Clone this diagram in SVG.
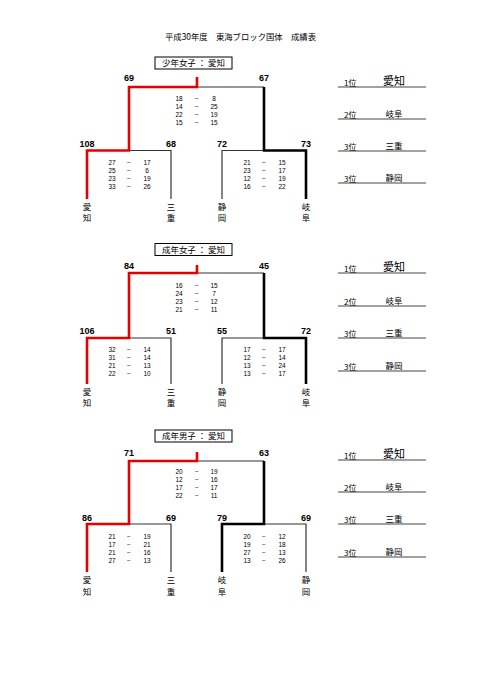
<svg xmlns="http://www.w3.org/2000/svg" width="481" height="680" viewBox="0 0 481 680">
<style>
.jp{font-family:"Noto Sans CJK JP","Noto Sans CJK SC",sans-serif;fill:#000}
.num{font-family:"Liberation Sans",Arial,sans-serif;fill:#000}
.b{font-weight:bold;font-size:9px;text-anchor:middle}
.s{font-size:6.5px;text-anchor:middle}
.nm{font-size:8.5px;text-anchor:middle}
.red{fill:none;stroke:#e60000;stroke-width:2.6}
.blk{fill:none;stroke:#000;stroke-width:2.6}
.thin{fill:none;stroke:#333;stroke-width:1.2}
.box{fill:#fff;stroke:#000;stroke-width:1}
.rl{stroke:#444;stroke-width:1.1}
.rk{font-size:8px}
.rn{font-size:8.5px;text-anchor:middle}
.r1{font-size:11px;text-anchor:middle}
</style>
<rect width="481" height="680" fill="#fff"/>
<text id="title" class="jp" x="240.5" y="40" font-size="8.5" text-anchor="middle" textLength="151" lengthAdjust="spacingAndGlyphs">平成30年度　東海ブロック国体　成績表</text>

<g id="connectors">
  <!-- bracket 1 -->
  <path class="thin" d="M197,87 H264"/>
  <path class="thin" d="M129,150.5 H171 V199"/>
  <path class="thin" d="M222,199 V150.5 H264"/>
  <path class="red" d="M197,77 V87 H129 V150.5 H87 V199"/>
  <path class="blk" d="M264,87 V150.5 H306 V199"/>
  <!-- bracket 2 -->
  <path class="thin" d="M197,273 H264"/>
  <path class="thin" d="M129,338 H171 V384"/>
  <path class="thin" d="M222,384 V338 H264"/>
  <path class="red" d="M197,265 V273 H129 V338 H87 V384"/>
  <path class="blk" d="M264,273 V338 H306 V384"/>
  <!-- bracket 3 -->
  <path class="thin" d="M197,461 H264"/>
  <path class="thin" d="M129,524 H171 V572"/>
  <path class="thin" d="M264,524 H306 V572"/>
  <path class="red" d="M197,452 V461 H129 V524 H87 V572"/>
  <path class="blk" d="M264,461 V524 H222 V572"/>
</g>

<!-- ===== Bracket 1 ===== -->
<g id="b1-header">
  <rect class="box" x="155" y="57" width="77" height="12"/>
  <text class="jp" x="193.5" y="66" font-size="8.5" text-anchor="middle" textLength="63" lengthAdjust="spacingAndGlyphs">少年女子 ： 愛知</text>
</g>
<g id="b1-final" class="num">
  <text class="b" x="129" y="80.5">69</text>
  <text class="b" x="264" y="80.5">67</text>
  <text class="s" x="179" y="101.3">18</text><text class="s" x="197" y="101.3">−</text><text class="s" x="214" y="101.3">8</text>
  <text class="s" x="179" y="109.3">14</text><text class="s" x="197" y="109.3">−</text><text class="s" x="214" y="109.3">25</text>
  <text class="s" x="179" y="117.3">22</text><text class="s" x="197" y="117.3">−</text><text class="s" x="214" y="117.3">19</text>
  <text class="s" x="179" y="125.3">15</text><text class="s" x="197" y="125.3">−</text><text class="s" x="214" y="125.3">15</text>
</g>
<g id="b1-semi-left" class="num">
  <text class="b" x="87" y="146.5">108</text>
  <text class="b" x="171" y="146.5">68</text>
  <text class="s" x="112" y="165.3">27</text><text class="s" x="129" y="165.3">−</text><text class="s" x="147" y="165.3">17</text>
  <text class="s" x="112" y="173.3">25</text><text class="s" x="129" y="173.3">−</text><text class="s" x="147" y="173.3">6</text>
  <text class="s" x="112" y="181.3">23</text><text class="s" x="129" y="181.3">−</text><text class="s" x="147" y="181.3">19</text>
  <text class="s" x="112" y="189.3">33</text><text class="s" x="129" y="189.3">−</text><text class="s" x="147" y="189.3">26</text>
</g>
<g id="b1-semi-right" class="num">
  <text class="b" x="222" y="146.5">72</text>
  <text class="b" x="306" y="146.5">73</text>
  <text class="s" x="247" y="165.3">21</text><text class="s" x="264" y="165.3">−</text><text class="s" x="282" y="165.3">15</text>
  <text class="s" x="247" y="173.3">23</text><text class="s" x="264" y="173.3">−</text><text class="s" x="282" y="173.3">17</text>
  <text class="s" x="247" y="181.3">12</text><text class="s" x="264" y="181.3">−</text><text class="s" x="282" y="181.3">19</text>
  <text class="s" x="247" y="189.3">16</text><text class="s" x="264" y="189.3">−</text><text class="s" x="282" y="189.3">22</text>
</g>
<g id="b1-teams" class="jp">
  <text class="nm" x="87" y="210">愛</text><text class="nm" x="87" y="221">知</text>
  <text class="nm" x="171" y="210">三</text><text class="nm" x="171" y="221">重</text>
  <text class="nm" x="222" y="210">静</text><text class="nm" x="222" y="221">岡</text>
  <text class="nm" x="306" y="210">岐</text><text class="nm" x="306" y="221">阜</text>
</g>
<g id="b1-ranking" class="jp">
  <line class="rl" x1="338" y1="87" x2="426" y2="87"/>
  <line class="rl" x1="338" y1="119" x2="426" y2="119"/>
  <line class="rl" x1="338" y1="151" x2="426" y2="151"/>
  <line class="rl" x1="338" y1="183" x2="426" y2="183"/>
  <text class="rk" x="344" y="85.5">1位</text><text class="r1" x="394" y="84.5">愛知</text>
  <text class="rk" x="344" y="117.5">2位</text><text class="rn" x="394" y="117">岐阜</text>
  <text class="rk" x="344" y="149.5">3位</text><text class="rn" x="394" y="149">三重</text>
  <text class="rk" x="344" y="181.5">3位</text><text class="rn" x="394" y="181">静岡</text>
</g>

<!-- ===== Bracket 2 ===== -->
<g id="b2-header">
  <rect class="box" x="155" y="243.5" width="77" height="12"/>
  <text class="jp" x="193.5" y="252.5" font-size="8.5" text-anchor="middle" textLength="63" lengthAdjust="spacingAndGlyphs">成年女子 ： 愛知</text>
</g>
<g id="b2-final" class="num">
  <text class="b" x="129" y="268.5">84</text>
  <text class="b" x="264" y="268.5">45</text>
  <text class="s" x="179" y="288.3">16</text><text class="s" x="197" y="288.3">−</text><text class="s" x="214" y="288.3">15</text>
  <text class="s" x="179" y="296.3">24</text><text class="s" x="197" y="296.3">−</text><text class="s" x="214" y="296.3">7</text>
  <text class="s" x="179" y="304.3">23</text><text class="s" x="197" y="304.3">−</text><text class="s" x="214" y="304.3">12</text>
  <text class="s" x="179" y="312.3">21</text><text class="s" x="197" y="312.3">−</text><text class="s" x="214" y="312.3">11</text>
</g>
<g id="b2-semi-left" class="num">
  <text class="b" x="87" y="333.5">106</text>
  <text class="b" x="171" y="333.5">51</text>
  <text class="s" x="112" y="352.3">32</text><text class="s" x="129" y="352.3">−</text><text class="s" x="147" y="352.3">14</text>
  <text class="s" x="112" y="360.3">31</text><text class="s" x="129" y="360.3">−</text><text class="s" x="147" y="360.3">14</text>
  <text class="s" x="112" y="368.3">21</text><text class="s" x="129" y="368.3">−</text><text class="s" x="147" y="368.3">13</text>
  <text class="s" x="112" y="376.3">22</text><text class="s" x="129" y="376.3">−</text><text class="s" x="147" y="376.3">10</text>
</g>
<g id="b2-semi-right" class="num">
  <text class="b" x="222" y="333.5">55</text>
  <text class="b" x="306" y="333.5">72</text>
  <text class="s" x="247" y="352.3">17</text><text class="s" x="264" y="352.3">−</text><text class="s" x="282" y="352.3">17</text>
  <text class="s" x="247" y="360.3">12</text><text class="s" x="264" y="360.3">−</text><text class="s" x="282" y="360.3">14</text>
  <text class="s" x="247" y="368.3">13</text><text class="s" x="264" y="368.3">−</text><text class="s" x="282" y="368.3">24</text>
  <text class="s" x="247" y="376.3">13</text><text class="s" x="264" y="376.3">−</text><text class="s" x="282" y="376.3">17</text>
</g>
<g id="b2-teams" class="jp">
  <text class="nm" x="87" y="395">愛</text><text class="nm" x="87" y="406">知</text>
  <text class="nm" x="171" y="395">三</text><text class="nm" x="171" y="406">重</text>
  <text class="nm" x="222" y="395">静</text><text class="nm" x="222" y="406">岡</text>
  <text class="nm" x="306" y="395">岐</text><text class="nm" x="306" y="406">阜</text>
</g>
<g id="b2-ranking" class="jp">
  <line class="rl" x1="338" y1="273" x2="426" y2="273"/>
  <line class="rl" x1="338" y1="306" x2="426" y2="306"/>
  <line class="rl" x1="338" y1="338" x2="426" y2="338"/>
  <line class="rl" x1="338" y1="371" x2="426" y2="371"/>
  <text class="rk" x="344" y="271.5">1位</text><text class="r1" x="394" y="270.5">愛知</text>
  <text class="rk" x="344" y="304.5">2位</text><text class="rn" x="394" y="304">岐阜</text>
  <text class="rk" x="344" y="336.5">3位</text><text class="rn" x="394" y="336">三重</text>
  <text class="rk" x="344" y="369.5">3位</text><text class="rn" x="394" y="369">静岡</text>
</g>

<!-- ===== Bracket 3 ===== -->
<g id="b3-header">
  <rect class="box" x="155" y="430" width="77" height="12"/>
  <text class="jp" x="193.5" y="439" font-size="8.5" text-anchor="middle" textLength="63" lengthAdjust="spacingAndGlyphs">成年男子 ： 愛知</text>
</g>
<g id="b3-final" class="num">
  <text class="b" x="129" y="455.5">71</text>
  <text class="b" x="264" y="455.5">63</text>
  <text class="s" x="179" y="474.3">20</text><text class="s" x="197" y="474.3">−</text><text class="s" x="214" y="474.3">19</text>
  <text class="s" x="179" y="482.3">12</text><text class="s" x="197" y="482.3">−</text><text class="s" x="214" y="482.3">16</text>
  <text class="s" x="179" y="490.3">17</text><text class="s" x="197" y="490.3">−</text><text class="s" x="214" y="490.3">17</text>
  <text class="s" x="179" y="498.3">22</text><text class="s" x="197" y="498.3">−</text><text class="s" x="214" y="498.3">11</text>
</g>
<g id="b3-semi-left" class="num">
  <text class="b" x="87" y="520.5">86</text>
  <text class="b" x="171" y="520.5">69</text>
  <text class="s" x="112" y="539.3">21</text><text class="s" x="129" y="539.3">−</text><text class="s" x="147" y="539.3">19</text>
  <text class="s" x="112" y="547.3">17</text><text class="s" x="129" y="547.3">−</text><text class="s" x="147" y="547.3">21</text>
  <text class="s" x="112" y="555.3">21</text><text class="s" x="129" y="555.3">−</text><text class="s" x="147" y="555.3">16</text>
  <text class="s" x="112" y="563.3">27</text><text class="s" x="129" y="563.3">−</text><text class="s" x="147" y="563.3">13</text>
</g>
<g id="b3-semi-right" class="num">
  <text class="b" x="222" y="520.5">79</text>
  <text class="b" x="306" y="520.5">69</text>
  <text class="s" x="247" y="539.3">20</text><text class="s" x="264" y="539.3">−</text><text class="s" x="282" y="539.3">12</text>
  <text class="s" x="247" y="547.3">19</text><text class="s" x="264" y="547.3">−</text><text class="s" x="282" y="547.3">18</text>
  <text class="s" x="247" y="555.3">27</text><text class="s" x="264" y="555.3">−</text><text class="s" x="282" y="555.3">13</text>
  <text class="s" x="247" y="563.3">13</text><text class="s" x="264" y="563.3">−</text><text class="s" x="282" y="563.3">26</text>
</g>
<g id="b3-teams" class="jp">
  <text class="nm" x="87" y="583">愛</text><text class="nm" x="87" y="595">知</text>
  <text class="nm" x="171" y="583">三</text><text class="nm" x="171" y="595">重</text>
  <text class="nm" x="222" y="583">岐</text><text class="nm" x="222" y="595">阜</text>
  <text class="nm" x="306" y="583">静</text><text class="nm" x="306" y="595">岡</text>
</g>
<g id="b3-ranking" class="jp">
  <line class="rl" x1="338" y1="460" x2="426" y2="460"/>
  <line class="rl" x1="338" y1="492" x2="426" y2="492"/>
  <line class="rl" x1="338" y1="524" x2="426" y2="524"/>
  <line class="rl" x1="338" y1="557" x2="426" y2="557"/>
  <text class="rk" x="344" y="458.5">1位</text><text class="r1" x="394" y="457.5">愛知</text>
  <text class="rk" x="344" y="490.5">2位</text><text class="rn" x="394" y="490">岐阜</text>
  <text class="rk" x="344" y="522.5">3位</text><text class="rn" x="394" y="522">三重</text>
  <text class="rk" x="344" y="555.5">3位</text><text class="rn" x="394" y="555">静岡</text>
</g>
</svg>
